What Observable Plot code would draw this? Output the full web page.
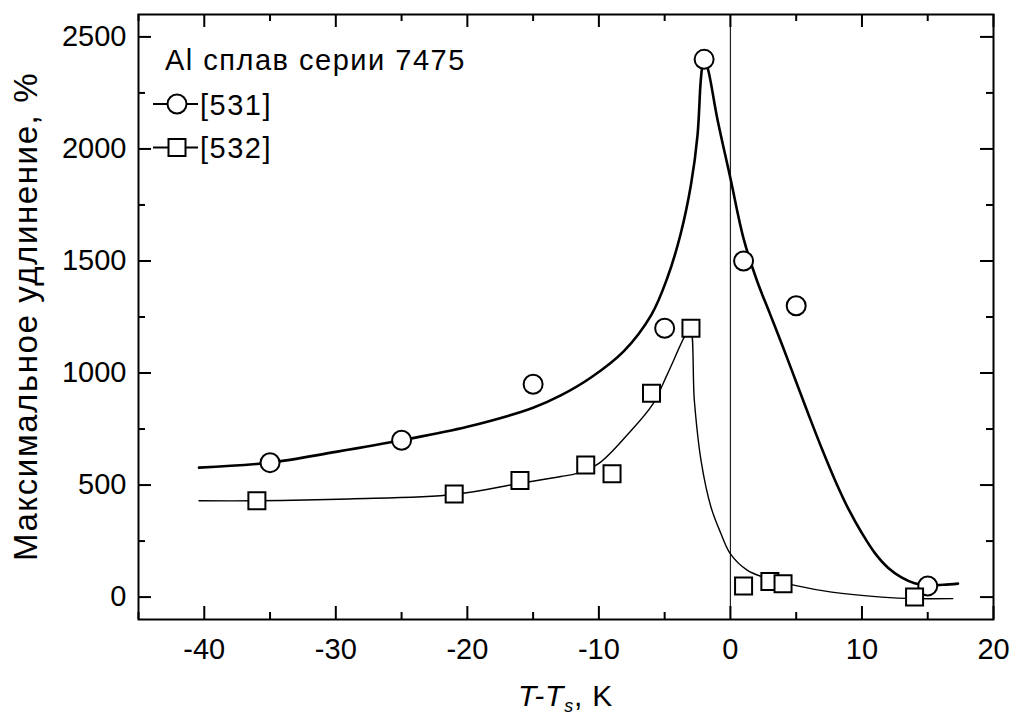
<!DOCTYPE html>
<html>
<head>
<meta charset="utf-8">
<script src="https://cdn.jsdelivr.net/npm/d3@7"></script>
<script src="https://cdn.jsdelivr.net/npm/@observablehq/plot@0.6"></script>
<style>
  html, body { margin: 0; padding: 0; background: #fff; }
  #chart svg { display: block; }
</style>
</head>
<body>
<div id="chart"></div>
<script>
// ---- Data: series [531] (circles) ----
const pts531X = [-35, -25, -15, -5, -2, 1, 5, 15];
const pts531Y = [600, 700, 950, 1200, 2400, 1500, 1300, 50];

// ---- Data: series [532] (squares) ----
const pts532X = [-36, -21, -16, -11, -9, -6, -3, 1, 3, 4, 14];
const pts532Y = [430, 460, 520, 590, 550, 910, 1200, 50, 70, 60, 0];

// ---- Fitted curve [531] (thick) ----
const fit531X = [-40.4, -35, -30, -25, -20, -15, -12.9, -10.6, -8.1, -6, -4.8, -3.8, -3, -2.5, -2.28, -2.16, -2, -1.72, -1, 0, 1, 2, 3, 4, 5, 6, 7, 8, 9, 10, 11, 12, 13, 14, 15.1, 16.2, 17.3];
const fit531Y = [578, 600, 648, 700, 760, 845, 900, 980, 1098, 1261, 1424, 1617, 1840, 2062, 2285, 2359, 2400, 2359, 2136, 1869, 1600, 1415, 1265, 1115, 960, 805, 655, 515, 390, 285, 195, 130, 88, 62, 52, 55, 60];

// ---- Fitted curve [532] (thin) ----
const fit532X = [-40.4, -36, -29, -21, -16, -12.9, -11.67, -10, -7.8, -5.9, -4.8, -3.4, -3.05, -2.74, -2.23, -1.47, -0.71, 0, 1.3, 2.5, 4.9, 7.7, 11.5, 14, 16.9];
const fit532Y = [430, 430, 438, 458, 508, 538, 552, 597, 727, 861, 994, 1172, 1200, 875, 608, 400, 282, 193, 119, 89, 52, 22, 0, -7, -7];

// ---- Axes ----
const xMajor = [-40, -30, -20, -10, 0, 10, 20];
const xMinor = [-45, -35, -25, -15, -5, 5, 15];
const yMajor = [0, 500, 1000, 1500, 2000, 2500];
const yMinor = [250, 750, 1250, 1750, 2250];
const xDomain = [-45, 20];
const yDomain = [-100, 2600];

const title = "Al сплав серии 7475";
const seriesNames = ["[531]", "[532]"];
const yLabel = "Максимальное удлинение, %";

const FONT = "'Liberation Sans', Arial, Helvetica, sans-serif";
const FS = 29;

const W = 1011, H = 716;
const mL = 138, mR = 18, mT = 14, mB = 97;
const innerW = W - mL - mR, innerH = H - mT - mB;

const zip = (xs, ys) => xs.map((x, i) => ({x, y: ys[i]}));
const d531 = zip(pts531X, pts531Y);
const d532 = zip(pts532X, pts532Y);
const f531 = zip(fit531X, fit531Y);
const f532 = zip(fit532X, fit532Y);

const majorLen = 13, minorLen = 7;

// legend + labels drawn with a render-function mark
function decorations(index, scales, values, dims) {
  const g = d3.create("svg:g").attr("font-family", FONT).attr("fill", "black");
  // legend title
  g.append("text").attr("x", 165).attr("y", 70).attr("font-size", FS)
    .attr("text-anchor", "start").attr("letter-spacing", 1.5).text(title);
  // legend rows
  const rows = [{y: 104, sym: "circle", name: seriesNames[0], ty: 114.5},
                {y: 147.5, sym: "square", name: seriesNames[1], ty: 158}];
  for (const r of rows) {
    g.append("line").attr("x1", 153).attr("x2", 198).attr("y1", r.y).attr("y2", r.y)
      .attr("stroke", "black").attr("stroke-width", 2);
    if (r.sym === "circle") {
      g.append("circle").attr("cx", 177).attr("cy", r.y).attr("r", 9.5)
        .attr("fill", "white").attr("stroke", "black").attr("stroke-width", 2);
    } else {
      g.append("rect").attr("x", 177 - 8.5).attr("y", r.y - 8.5).attr("width", 17).attr("height", 17)
        .attr("fill", "white").attr("stroke", "black").attr("stroke-width", 2);
    }
    g.append("text").attr("x", 200).attr("y", r.ty).attr("font-size", FS)
      .attr("text-anchor", "start").attr("letter-spacing", 1.5).text(r.name);
  }
  // y-axis label
  const cy = mT + innerH / 2;
  g.append("text").attr("transform", `translate(37,${cy}) rotate(-90)`)
    .attr("text-anchor", "middle").attr("font-size", 33).attr("letter-spacing", 1.6).text(yLabel);
  // x-axis label: T-T_s, K
  const cx = mL + innerW / 2;
  const t = g.append("text").attr("x", cx).attr("y", 706).attr("text-anchor", "middle")
    .attr("font-size", 30).attr("letter-spacing", 0.8);
  t.append("tspan").attr("font-style", "italic").text("T-T");
  t.append("tspan").attr("font-style", "italic").attr("font-size", 18).attr("dy", 6).text("s");
  t.append("tspan").attr("dy", -6).text(", K");
  return g.node();
}

const chart = Plot.plot({
  width: W,
  height: H,
  marginLeft: mL,
  marginRight: mR,
  marginTop: mT,
  marginBottom: mB,
  style: {fontFamily: FONT, fontSize: FS + "px", background: "white", color: "black"},
  x: {domain: xDomain},
  y: {domain: yDomain},
  marks: [
    // zero line
    Plot.ruleX([0], {stroke: "#222", strokeWidth: 1.2}),
    // inward ticks: bottom & top
    Plot.tickX(xMajor, {x: d => d, insetTop: innerH - majorLen, stroke: "black", strokeWidth: 2}),
    Plot.tickX(xMajor, {x: d => d, insetBottom: innerH - majorLen, stroke: "black", strokeWidth: 2}),
    Plot.tickX(xMinor, {x: d => d, insetTop: innerH - minorLen, stroke: "black", strokeWidth: 2}),
    Plot.tickX(xMinor, {x: d => d, insetBottom: innerH - minorLen, stroke: "black", strokeWidth: 2}),
    // inward ticks: left & right
    Plot.tickY(yMajor, {y: d => d, insetRight: innerW - majorLen, stroke: "black", strokeWidth: 2}),
    Plot.tickY(yMajor, {y: d => d, insetLeft: innerW - majorLen, stroke: "black", strokeWidth: 2}),
    Plot.tickY(yMinor, {y: d => d, insetRight: innerW - minorLen, stroke: "black", strokeWidth: 2}),
    Plot.tickY(yMinor, {y: d => d, insetLeft: innerW - minorLen, stroke: "black", strokeWidth: 2}),
    // tick labels
    Plot.axisX({ticks: xMajor, tickSize: 0, tickPadding: 19, fontSize: FS, label: null, tickFormat: d => String(d)}),
    Plot.axisY({ticks: yMajor, tickSize: 0, tickPadding: 12, fontSize: FS, label: null, tickFormat: d => String(d)}),
    // curves
    Plot.line(f531, {x: "x", y: "y", curve: "catmull-rom", stroke: "black", strokeWidth: 2.6}),
    Plot.line(f532, {x: "x", y: "y", curve: "catmull-rom", stroke: "black", strokeWidth: 1.4}),
    // data points
    Plot.dot(d531, {x: "x", y: "y", r: 9.5, symbol: "circle", fill: "white", stroke: "black", strokeWidth: 2}),
    Plot.dot(d532, {x: "x", y: "y", r: 9.6, symbol: "square", fill: "white", stroke: "black", strokeWidth: 2}),
    // frame
    Plot.frame({stroke: "black", strokeWidth: 2}),
    decorations
  ]
});

document.getElementById("chart").appendChild(chart);
</script>
</body>
</html>
